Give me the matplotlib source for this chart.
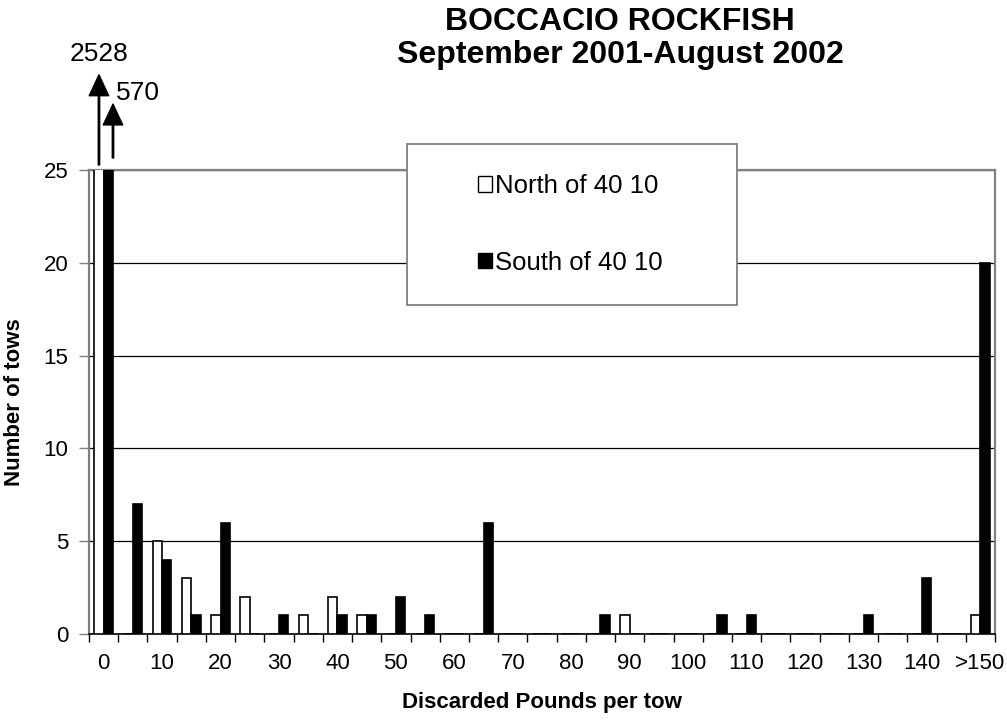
import numpy as np
import matplotlib.pyplot as plt
from matplotlib.patches import Patch, Rectangle

plt.rcParams['font.family'] = ['Liberation Sans', 'DejaVu Sans']

# discard bins, 5 lb wide, last one is >150
bins = [str(v) for v in range(0, 150, 5)] + ['>150']
tick_labels = [str(v) for v in range(0, 150, 10)] + ['>150']
north = [2528, 0, 5, 3, 1, 2, 0, 1, 2, 1, 0, 0, 0, 0, 0, 0,
         0, 0, 1, 0, 0, 0, 0, 0, 0, 0, 0, 0, 0, 0, 1]
south = [570, 7, 4, 1, 6, 0, 1, 0, 1, 1, 2, 1, 0, 6, 0, 0,
         0, 1, 0, 0, 0, 1, 1, 0, 0, 0, 1, 0, 3, 0, 20]
off_scale = {'north': 2528, 'south': 570}

x = np.arange(len(bins))
w = 0.32

fig = plt.figure(figsize=(10.07, 7.23), dpi=100)
ax = fig.add_axes([0.0884, 0.1231, 0.8997, 0.6418])

ax.bar(x - w / 2, north, width=w, color='white', edgecolor='black', linewidth=1.2, zorder=3)
ax.bar(x + w / 2, south, width=w, color='black', edgecolor='black', linewidth=1.2, zorder=3)

ax.set_xlim(-0.5, len(bins) - 0.5)
ax.set_ylim(0, 25)
ax.set_yticks([0, 5, 10, 15, 20, 25])
ax.yaxis.grid(True, color='black', linewidth=0.9)
ax.set_axisbelow(True)

ax.set_xticks(x[::2])
ax.set_xticklabels(tick_labels)
ax.set_xticks(np.arange(-0.5, len(bins)), minor=True)
ax.tick_params(axis='x', which='major', length=0, pad=14, labelsize=16)
ax.tick_params(axis='x', which='minor', length=6, width=1, color='black')
ax.tick_params(axis='y', length=7, width=1, color='gray', pad=8, labelsize=16)

for s in ['top', 'right', 'left']:
    ax.spines[s].set_color('#808080')
    ax.spines[s].set_linewidth(1.6)
ax.spines['bottom'].set_color('black')
ax.spines['bottom'].set_linewidth(1.2)

ax.set_xlabel('Discarded Pounds per tow', fontsize=16, fontweight='bold', labelpad=13)
ax.set_ylabel('Number of tows', fontsize=16, fontweight='bold', labelpad=13)

fig.suptitle('BOCCACIO ROCKFISH\nSeptember 2001-August 2002', x=0.616, y=0.99,
             fontsize=23, fontweight='bold', linespacing=1.12)

# arrows for off-scale bars in the 0 bin
tr = ax.get_xaxis_transform()
ax.annotate('', xy=(-w / 2, 1.205), xytext=(-w / 2, 1.011), xycoords=tr, textcoords=tr,
            arrowprops=dict(facecolor='black', edgecolor='black', width=1.0,
                            headwidth=14, headlength=15, shrink=0), annotation_clip=False)
ax.annotate('', xy=(w, 1.142), xytext=(w, 1.026), xycoords=tr, textcoords=tr,
            arrowprops=dict(facecolor='black', edgecolor='black', width=1.0,
                            headwidth=14, headlength=15, shrink=0), annotation_clip=False)
ax.text(-w / 2, 1.25, str(off_scale['north']), transform=tr, ha='center', va='center', fontsize=19)
ax.text(w + 0.1, 1.166, str(off_scale['south']), transform=tr, ha='left', va='center', fontsize=19)

# legend box
box = Rectangle((0.351, 0.709), 0.364, 0.347, transform=ax.transAxes, facecolor='white',
                edgecolor='#808080', linewidth=1.3, clip_on=False, zorder=5)
ax.add_patch(box)
handles = [Patch(facecolor='white', edgecolor='black', label='North of 40 10'),
           Patch(facecolor='black', edgecolor='black', label='South of 40 10')]
leg = ax.legend(handles=handles, loc='center', bbox_to_anchor=(0.531, 0.8825), frameon=False,
                fontsize=18.5, labelspacing=2.05, handlelength=0.55, handleheight=0.55,
                handletextpad=0.12)
leg.set_zorder(6)

fig.savefig('out.png', dpi=100)
